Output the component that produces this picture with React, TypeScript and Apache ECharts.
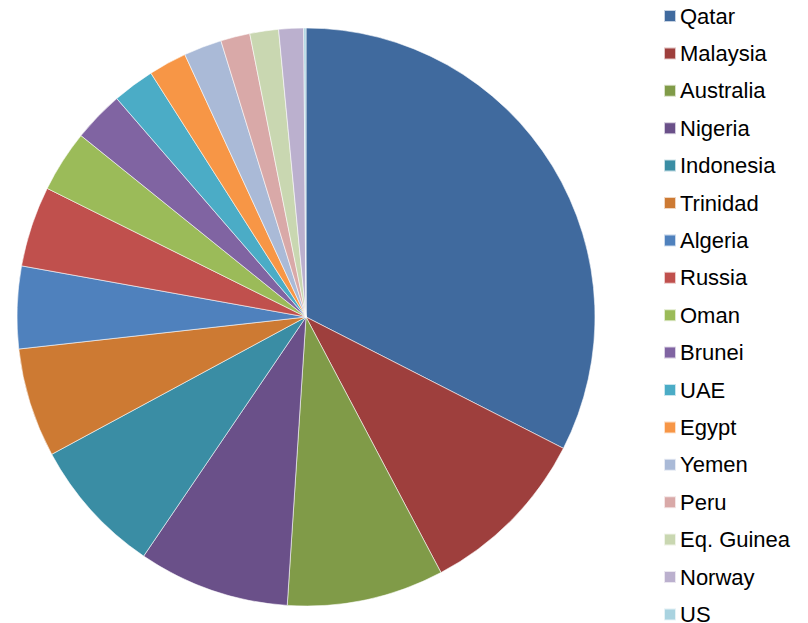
import React, { useEffect, useRef } from "react";
import * as echarts from "echarts";

const countries = [
  "Qatar", "Malaysia", "Australia", "Nigeria", "Indonesia", "Trinidad", "Algeria", "Russia",
  "Oman", "Brunei", "UAE", "Egypt", "Yemen", "Peru", "Eq. Guinea", "Norway", "US",
];
const values = [105.3, 31.6, 28.4, 27.4, 24.7, 19.8, 14.9, 14.6, 11.2, 9.2, 7.6, 6.9, 6.9, 5.3, 5.2, 4.5, 0.4];
const colors = [
  "#406A9E", "#9E3F3D", "#809B48", "#6A5089", "#3A8DA4", "#CD7A33",
  "#4F81BD", "#C0504D", "#9BBB59", "#8064A2", "#4BACC6", "#F79646",
  "#AABAD7", "#D9A9A8", "#C9D7B1", "#BBB0CE", "#A9D3E0",
];

export default function App() {
  const ref = useRef<HTMLDivElement>(null);
  useEffect(() => {
    if (!ref.current) return;
    const chart = echarts.init(ref.current, undefined, { renderer: "svg" });
    chart.setOption({
      animation: false,
      color: colors,
      legend: {
        orient: "vertical",
        left: 663,
        top: 5,
        height: 700,
        padding: 0,
        itemWidth: 12,
        itemHeight: 12,
        itemGap: 15.4,
        icon: "rect",
        textStyle: {
          fontFamily: "Liberation Sans",
          fontSize: 22,
          lineHeight: 22,
          color: "#000",
          padding: [0, 0, 0, -1],
        },
        data: countries,
      },
      series: [
        {
          type: "pie",
          center: [306, 317],
          radius: 289,
          startAngle: 90,
          clockwise: true,
          label: { show: false },
          labelLine: { show: false },
          emphasis: { disabled: true },
          itemStyle: { borderColor: "rgba(255,255,255,0.7)", borderWidth: 0.8 },
          data: countries.map((c, i) => ({ name: c, value: values[i] })),
        },
      ],
    });
    return () => chart.dispose();
  }, []);
  return (
    <div
      ref={ref}
      style={{ position: "fixed", left: 0, top: 0, width: 808, height: 623, background: "#fff" }}
    />
  );
}
